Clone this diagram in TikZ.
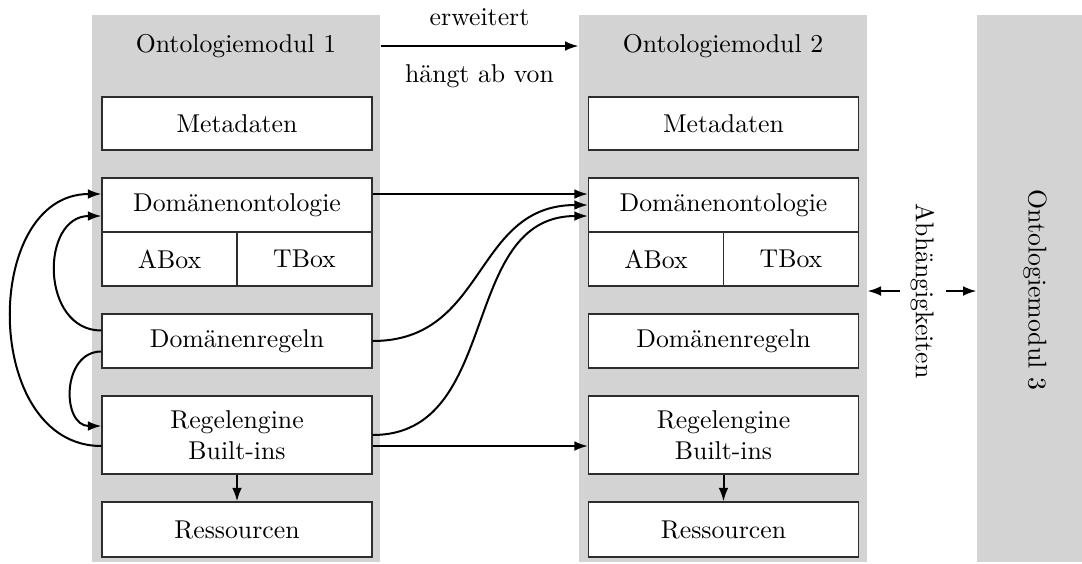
\documentclass[tikz,border=0pt]{standalone}
\usetikzlibrary{arrows.meta}

\definecolor{modulegray}{RGB}{211,211,211}
\definecolor{boxline}{RGB}{45,45,45}
% one drawing unit
\newcommand\pxu{0.4pt}

\begin{document}
\begin{tikzpicture}[x=0.4pt,y=-0.4pt,
  font=\fontsize{10.3pt}{12.4pt}\selectfont,
  module/.style={fill=modulegray, draw=none, inner sep=0pt,
    minimum width=288*\pxu, minimum height=547*\pxu},
  part/.style={draw=boxline, line width=0.5pt, fill=white, inner sep=0pt,
    minimum width=270*\pxu, minimum height=54*\pxu, align=center},
  half/.style={part, minimum width=135*\pxu},
  link/.style={line width=0.8pt, -{Latex[length=5.4pt,width=3.9pt]}},
]
\useasboundingbox (0,0) rectangle (1082,563);

% module backgrounds
\node[module] (m1) at (236,288.5) {};
\node[module] (m2) at (723,288.5) {};
\node[module, minimum width=105*\pxu] (m3) at (1029.5,288.5) {};

% module titles
\node (t1) at (236,46) {Ontologiemodul 1};
\node (t2) at (723,46) {Ontologiemodul 2};
\node[rotate=-90] (t3) at (1035,290) {Ontologiemodul 3};

% parts of module 1
\node[part, minimum height=53*\pxu] (meta1) at (237,123.5) {Metadaten};
\node[part] (dom1) at (237,205) {Domänenontologie};
\node[half] (abox1) at (169.5,259) {ABox};
\node[half] (tbox1) at (304.5,259) {TBox};
\node[part] (rules1) at (237,341) {Domänenregeln};
\node[part, minimum height=78*\pxu] (engine1) at (237,435) {Regelengine\\Built-ins};
\node[part, minimum height=55*\pxu] (res1) at (237,529.5) {Ressourcen};

% parts of module 2
\node[part, minimum height=53*\pxu] (meta2) at (723.5,123.5) {Metadaten};
\node[part] (dom2) at (723.5,205) {Domänenontologie};
\node[half] (abox2) at (656,259) {ABox};
\node[half] (tbox2) at (791,259) {TBox};
\node[part] (rules2) at (723.5,341) {Domänenregeln};
\node[part, minimum height=78*\pxu] (engine2) at (723.5,435) {Regelengine\\Built-ins};
\node[part, minimum height=55*\pxu] (res2) at (723.5,529.5) {Ressourcen};

% relation between modules 1 and 2
\draw[link] (m1.east |- t1.center) -- (m2.west |- t1.center)
  node[midway, above=4.3pt] {erweitert}
  node[midway, below=3.9pt] {hängt ab von};

% dependencies towards module 3
\node[rotate=-90, minimum height=18pt, inner sep=0pt] (dep) at (922.5,291) {Abhängigkeiten};
\draw[link] (dep.south) -- (m2.east |- dep.south);
\draw[link] (dep.north) -- (m3.west |- dep.north);

% links inside module 1
\draw[link] ([yshift=-4.4pt]engine1.west) to[out=180,in=180,distance=48pt] ([yshift=4.4pt]dom1.west);
\draw[link] ([yshift=4.2pt]rules1.west) to[out=180,in=180,distance=24.5pt] ([yshift=-4.4pt]dom1.west);
\draw[link] ([yshift=-4.2pt]rules1.west) to[out=180,in=180,distance=16pt] ([yshift=3.6pt]engine1.west);
\draw[link] (engine1.south) -- (res1.north);

% links from module 1 to module 2
\draw[link] ([yshift=4.4pt]dom1.east) -- ([yshift=4.4pt]dom2.west);
\draw[link] (rules1.east) to[out=0,in=180,distance=46pt] (dom2.west);
\draw[link] (engine1.east) to[out=0,in=180,distance=52pt] ([yshift=-4.4pt]dom2.west);
\draw[link] ([yshift=-4.4pt]engine1.east) -- ([yshift=-4.4pt]engine2.west);

% links inside module 2
\draw[link] (engine2.south) -- (res2.north);
\end{tikzpicture}
\end{document}
